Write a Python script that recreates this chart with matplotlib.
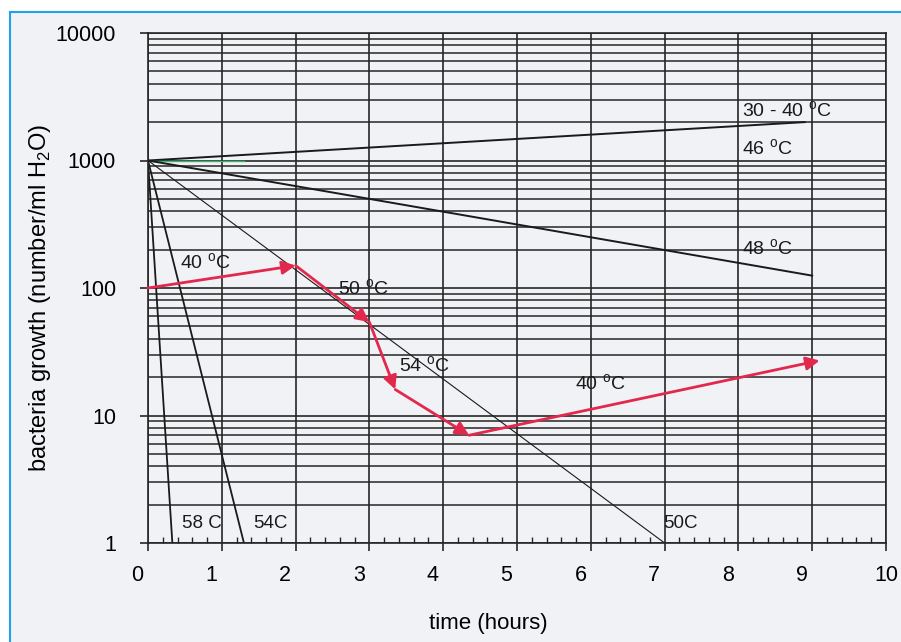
import matplotlib
matplotlib.use("Agg")
import matplotlib.pyplot as plt
import matplotlib.transforms as mtransforms
from matplotlib.patches import Rectangle
from matplotlib.ticker import FixedLocator, MultipleLocator, NullFormatter

plt.rcParams["font.family"] = ["Liberation Sans", "DejaVu Sans"]

# death / growth curves, all starting at 1000 per ml
t_3040 = [0, 8.9]
n_3040 = [1000, 2000]
t_46 = [0, 1.3]
n_46 = [1000, 1000]
t_48 = [0, 9]
n_48 = [1000, 125]
t_50 = [0, 7]
n_50 = [1000, 1]
t_54 = [0, 1.3]
n_54 = [1000, 1]
t_58 = [0, 0.33]
n_58 = [1000, 1]

# red path of a sample through several temperatures
path_t = [0, 2.0, 3.0, 3.35, 4.35, 9.1]
path_n = [100, 150, 54, 16, 7, 27]

x_ticks = list(range(0, 11))
y_ticks = [1, 10, 100, 1000, 10000]
y_labels = ["1", "10", "100", "1000", "10000"]

grid_col = "#262626"
red = "#e3284d"

fig = plt.figure(figsize=(9.01, 6.42), dpi=100)
fig.patch.set_facecolor("white")
fig.patches.append(Rectangle((10 / 901, -0.01), 1.0, 1 - 12 / 642 + 0.01,
                             transform=fig.transFigure, facecolor="#f1f2f6",
                             edgecolor="#22a0e8", linewidth=1.5, zorder=-10))

ax = fig.add_axes([148 / 901, 1 - 543 / 642, (886 - 148) / 901, (543 - 33) / 642])
ax.set_facecolor("none")
ax.set_yscale("log")
ax.set_xlim(0, 10)
ax.set_ylim(1, 10000)

ax.set_xticks(x_ticks)
ax.set_xticklabels([str(v) for v in x_ticks])
ax.xaxis.set_minor_locator(MultipleLocator(0.2))
ax.yaxis.set_major_locator(FixedLocator(y_ticks))
ax.set_yticklabels(y_labels)
ax.yaxis.set_minor_formatter(NullFormatter())

ax.grid(True, which="major", color=grid_col, lw=1.2)
ax.grid(True, which="minor", axis="y", color=grid_col, lw=1.1)
ax.set_axisbelow(True)

for s in ax.spines.values():
    s.set_color(grid_col)
    s.set_linewidth(1.2)

ax.tick_params(axis="x", which="major", direction="out", length=6, width=1.2,
               color=grid_col, labelsize=15.5, pad=10)
ax.tick_params(axis="x", which="minor", direction="in", length=4, width=1.0,
               color=grid_col)
ax.tick_params(axis="y", which="major", direction="out", length=6, width=1.2,
               color=grid_col, labelsize=15.5, pad=17)
ax.tick_params(axis="y", which="minor", length=0)

# the scanned tick labels sit a bit left of their grid lines
shift = mtransforms.ScaledTranslation(-7.5 / 72, 0, fig.dpi_scale_trans)
for lab in ax.get_xticklabels()[:-1]:
    lab.set_transform(lab.get_transform() + shift)

ax.plot(t_3040, n_3040, color="#1a1a1a", lw=1.4)
ax.plot(t_46, n_46, color="#3cb46e", lw=1.0)
ax.plot(t_48, n_48, color="#1a1a1a", lw=1.4)
ax.plot(t_50, n_50, color="#1a1a1a", lw=0.8)
ax.plot(t_54, n_54, color="#1a1a1a", lw=1.3)
ax.plot(t_58, n_58, color="#1a1a1a", lw=1.3)

for i in range(len(path_t) - 1):
    ax.annotate("", xy=(path_t[i + 1], path_n[i + 1]), xytext=(path_t[i], path_n[i]),
                arrowprops=dict(arrowstyle="-|>", color=red, lw=2.0,
                                mutation_scale=20, shrinkA=0, shrinkB=0))

deg = " $^{\\mathregular{o}}$C"
txt = dict(fontsize=14, color="#1a1a1a", va="center")
ax.text(8.05, 2470, "30 - 40" + deg, **txt)
ax.text(8.05, 1240, "46" + deg, **txt)
ax.text(8.05, 204, "48" + deg, **txt)
ax.text(0.43, 158, "40" + deg, **txt)
ax.text(2.57, 99, "50" + deg, **txt)
ax.text(3.4, 24.7, "54" + deg, **txt)
ax.text(5.78, 17.8, "40" + deg, **txt)
ax.text(0.46, 1.42, "58 C", fontsize=13.5, color="#1a1a1a", va="center")
ax.text(1.42, 1.42, "54C", fontsize=13.5, color="#1a1a1a", va="center")
ax.text(6.98, 1.42, "50C", fontsize=13.5, color="#1a1a1a", va="center")

ax.set_xlabel("time (hours)", fontsize=16)
ax.set_ylabel("bacteria growth (number/ml H$_{\\mathregular{2}}$O)", fontsize=17)
ax.xaxis.set_label_coords((488 - 148) / 738, -(623 - 543) / 510)
ax.yaxis.set_label_coords((40 - 148) / 738, (543 - 298) / 510)
ax.xaxis.label.set_va("center")
ax.yaxis.label.set_va("center")

fig.savefig("out.png", dpi=100)
